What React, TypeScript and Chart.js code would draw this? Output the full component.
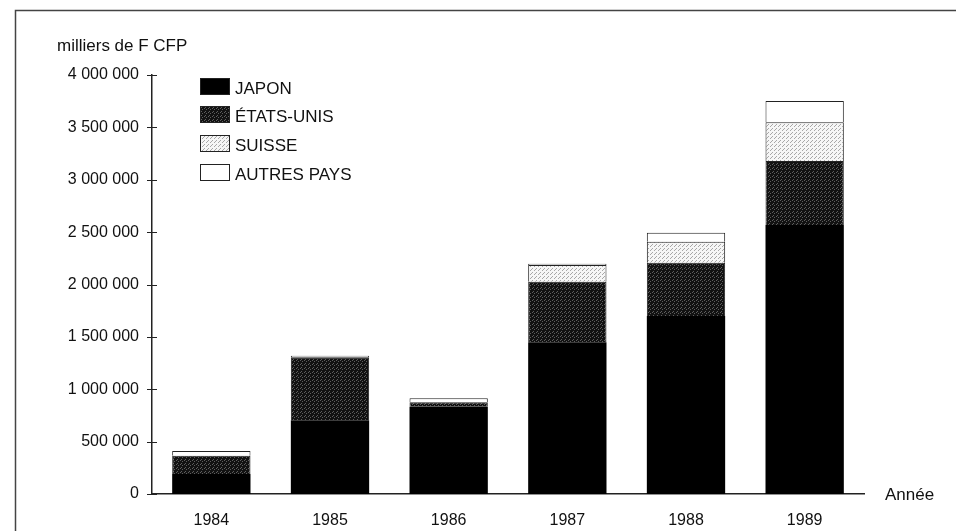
import React, { useEffect, useRef } from "react";
import { Chart, registerables } from "chart.js";

Chart.register(...registerables);

const categories = ["1984", "1985", "1986", "1987", "1988", "1989"];
const japon = [190000, 705000, 833000, 1448000, 1699000, 2568000];
const etatsUnis = [175000, 600000, 42000, 579000, 509000, 611000];
const suisse = [0, 0, 0, 159000, 200000, 369000];
const autresPays = [45000, 15000, 38000, 12000, 86000, 204000];
const seriesLabels = ["JAPON", "ÉTATS-UNIS", "SUISSE", "AUTRES PAYS"];
const yUnitLabel = "milliers de F CFP";
const xUnitLabel = "Année";

const FONT = "'Liberation Sans', Arial, Helvetica, sans-serif";
const INK = "#111";

function fmt(v: number) {
  return String(Math.round(v)).replace(/\B(?=(\d{3})+(?!\d))/g, " ");
}

function makePattern(bg: string, dot: string, pts: number[][]) {
  const c = document.createElement("canvas");
  c.width = 4;
  c.height = 4;
  const g = c.getContext("2d")!;
  g.fillStyle = bg;
  g.fillRect(0, 0, 4, 4);
  g.fillStyle = dot;
  pts.forEach(([x, y]) => g.fillRect(x, y, 1, 1));
  return g.createPattern(c, "repeat")!;
}

export default function App() {
  const ref = useRef<HTMLCanvasElement | null>(null);

  useEffect(() => {
    if (!ref.current) return;
    const usPat = makePattern("#121212", "#5e5e5e", [[0, 0], [2, 1], [1, 3]]);
    const chPat = makePattern("#f6f6f6", "#a8a8a8", [[0, 0], [2, 2], [3, 1]]);
    const fills: any[] = ["#000", usPat, chPat, "#fff"];

    const decor = {
      id: "decor",
      afterDraw(chart: any) {
        const ctx = chart.ctx as CanvasRenderingContext2D;
        const area = chart.chartArea;
        const y = chart.scales.y;
        ctx.save();
        // frame
        ctx.strokeStyle = "#444";
        ctx.lineWidth = 1.5;
        ctx.beginPath();
        ctx.moveTo(15.5, 531);
        ctx.lineTo(15.5, 10.5);
        ctx.lineTo(956, 10.5);
        ctx.stroke();
        // crossing y ticks
        ctx.strokeStyle = "#222";
        ctx.lineWidth = 1;
        y.ticks.forEach((t: any) => {
          const py = Math.round(y.getPixelForValue(t.value)) + 0.5;
          ctx.beginPath();
          ctx.moveTo(area.left - 5, py);
          ctx.lineTo(area.left + 5, py);
          ctx.stroke();
        });
        // unit labels
        ctx.fillStyle = INK;
        ctx.font = `17px ${FONT}`;
        ctx.textBaseline = "alphabetic";
        ctx.textAlign = "left";
        ctx.fillText(yUnitLabel, 57, 51);
        ctx.fillText(xUnitLabel, area.right + 21, area.bottom + 6);
        // legend
        chart.data.datasets.forEach((ds: any, i: number) => {
          const cy = 85.5 + i * 28.7;
          const bx = 200.5;
          const by = Math.round(cy - 8) + 0.5;
          ctx.fillStyle = ds.backgroundColor;
          ctx.fillRect(bx, by, 29, 16);
          ctx.strokeStyle = "#222";
          ctx.lineWidth = 1;
          ctx.strokeRect(bx, by, 29, 16);
          ctx.fillStyle = INK;
          ctx.fillText(ds.label, 235, cy + 8);
        });
        ctx.restore();
      },
    };

    const seriesData = [japon, etatsUnis, suisse, autresPays];
    const chart = new Chart(ref.current, {
      type: "bar",
      data: {
        labels: categories,
        datasets: seriesData.map((d, i) => ({
          label: seriesLabels[i],
          data: d,
          backgroundColor: fills[i],
          borderColor: "#222",
          borderWidth: i === 0 ? 0 : 1,
          barPercentage: 0.66,
          categoryPercentage: 1,
        })),
      },
      options: {
        animation: false,
        responsive: false,
        devicePixelRatio: 1,
        layout: { padding: { top: 75, right: 92, left: 0, bottom: 0 } },
        plugins: { legend: { display: false }, tooltip: { enabled: false } },
        scales: {
          x: {
            stacked: true,
            grid: { display: false, drawTicks: false },
            border: { display: true, color: "#222", width: 1.5 },
            ticks: { padding: 17, color: INK, font: { size: 16, family: FONT } },
            afterFit: (s: any) => {
              s.height = 37;
            },
          },
          y: {
            stacked: true,
            min: 0,
            max: 4000000,
            grid: { display: false, drawTicks: false },
            border: { display: true, color: "#222", width: 1.5 },
            ticks: {
              stepSize: 500000,
              padding: 13,
              color: INK,
              font: { size: 16, family: FONT },
              callback: (v: any) => fmt(Number(v)),
            },
            afterFit: (s: any) => {
              s.width = 152;
            },
          },
        },
      },
      plugins: [decor],
    } as any);
    return () => chart.destroy();
  }, []);

  return (
    <div style={{ position: "fixed", left: 0, top: 0, width: 956, height: 531, background: "#fff" }}>
      <canvas ref={ref} width={956} height={531} style={{ display: "block" }} />
    </div>
  );
}
